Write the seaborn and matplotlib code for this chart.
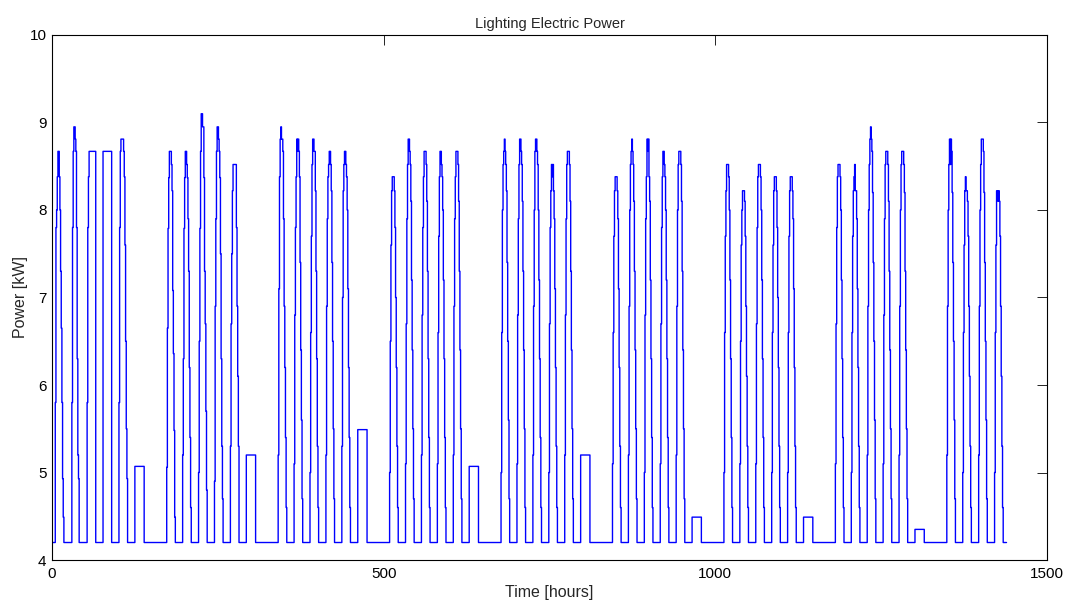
import matplotlib
matplotlib.use("Agg")
import matplotlib.pyplot as plt
import numpy as np
import pandas as pd
import seaborn as sns

# Lighting load, hourly, over 60 days starting on a Monday
BASE_KW = 4.2           # night-time / unoccupied lighting load
N_DAYS = 60
ON_START = 5            # first hour of the day with the occupied profile

# Occupied-hours profiles (hours 5..18) for each weekday, in kW
weekday_profiles = [
    # week 1
    [5.80, 7.80, 8.00, 8.38, 8.67, 8.67, 8.38, 8.00, 7.30, 6.65, 5.80, 4.93, 4.49, 4.20],
    [4.20, 5.80, 7.80, 8.67, 8.95, 8.95, 8.81, 8.67, 7.80, 6.30, 5.20, 4.93, 4.20, 4.20],
    [5.80, 7.80, 8.38, 8.67, 8.67, 8.67, 8.67, 8.67, 8.67, 8.67, 8.67, 8.67, 8.67, 4.20],
    [8.67, 8.67, 8.67, 8.67, 8.67, 8.67, 8.67, 8.67, 8.67, 8.67, 8.67, 8.67, 8.67, 4.20],
    [5.80, 7.80, 8.67, 8.81, 8.81, 8.81, 8.81, 8.67, 8.38, 7.60, 6.50, 5.50, 4.93, 4.20],
    # week 2
    [5.06, 6.65, 7.79, 8.37, 8.67, 8.67, 8.67, 8.52, 8.22, 7.08, 6.36, 5.48, 4.49, 4.20],
    [5.20, 6.30, 7.79, 8.37, 8.67, 8.67, 8.52, 8.37, 7.90, 7.30, 6.20, 5.40, 4.60, 4.20],
    [5.00, 6.50, 7.79, 8.67, 9.10, 9.10, 8.95, 8.95, 8.37, 7.30, 6.70, 5.70, 4.80, 4.20],
    [4.90, 6.90, 7.90, 8.67, 8.95, 8.95, 8.81, 8.67, 8.37, 7.50, 6.30, 5.30, 4.70, 4.20],
    [5.30, 6.70, 7.50, 8.22, 8.52, 8.52, 8.52, 8.52, 8.52, 7.80, 6.90, 6.10, 5.30, 4.20],
    # week 3
    [5.20, 7.10, 8.38, 8.81, 8.95, 8.81, 8.81, 8.67, 7.90, 6.90, 6.20, 5.40, 4.60, 4.20],
    [5.10, 6.80, 7.80, 8.38, 8.81, 8.67, 8.81, 8.67, 8.38, 7.40, 6.40, 5.60, 4.70, 4.20],
    [5.00, 6.60, 7.70, 8.52, 8.81, 8.81, 8.67, 8.67, 8.22, 7.30, 6.30, 5.30, 4.60, 4.20],
    [5.20, 6.90, 7.90, 8.38, 8.52, 8.67, 8.67, 8.52, 8.22, 7.40, 6.50, 5.50, 4.70, 4.20],
    [5.30, 7.00, 8.22, 8.52, 8.67, 8.67, 8.52, 8.38, 8.00, 7.10, 6.20, 5.40, 4.60, 4.20],
    # week 4
    [5.00, 6.50, 7.60, 8.22, 8.38, 8.38, 8.38, 8.22, 7.80, 7.00, 6.20, 5.30, 4.60, 4.20],
    [5.10, 6.70, 7.90, 8.52, 8.81, 8.81, 8.67, 8.52, 8.10, 7.20, 6.40, 5.50, 4.70, 4.20],
    [5.20, 6.80, 7.80, 8.38, 8.67, 8.67, 8.67, 8.52, 8.10, 7.30, 6.30, 5.40, 4.60, 4.20],
    [5.10, 6.60, 7.70, 8.38, 8.67, 8.67, 8.52, 8.38, 8.00, 7.20, 6.30, 5.40, 4.60, 4.20],
    [5.20, 6.90, 7.90, 8.38, 8.67, 8.67, 8.67, 8.52, 8.10, 7.30, 6.40, 5.50, 4.70, 4.20],
    # week 5
    [5.00, 6.60, 8.00, 8.52, 8.67, 8.81, 8.67, 8.52, 8.22, 7.40, 6.50, 5.60, 4.70, 4.20],
    [5.10, 6.80, 7.90, 8.52, 8.81, 8.81, 8.67, 8.52, 8.10, 7.30, 6.40, 5.50, 4.60, 4.20],
    [5.20, 6.90, 8.00, 8.67, 8.81, 8.81, 8.67, 8.52, 8.00, 7.20, 6.30, 5.40, 4.60, 4.20],
    [5.00, 6.70, 7.80, 8.22, 8.52, 8.38, 8.52, 8.22, 7.90, 7.10, 6.20, 5.30, 4.60, 4.20],
    [5.20, 6.80, 7.90, 8.52, 8.67, 8.67, 8.67, 8.52, 8.10, 7.30, 6.40, 5.50, 4.70, 4.20],
    # week 6
    [5.10, 6.60, 7.70, 8.22, 8.38, 8.38, 8.38, 8.22, 7.90, 7.10, 6.20, 5.30, 4.60, 4.20],
    [5.20, 6.90, 8.00, 8.52, 8.67, 8.81, 8.67, 8.52, 8.10, 7.30, 6.40, 5.50, 4.70, 4.20],
    [5.00, 6.80, 7.90, 8.38, 8.81, 8.67, 8.81, 8.38, 8.10, 7.20, 6.30, 5.40, 4.60, 4.20],
    [5.10, 6.70, 7.80, 8.38, 8.67, 8.67, 8.52, 8.38, 8.00, 7.20, 6.30, 5.40, 4.60, 4.20],
    [5.20, 6.90, 8.00, 8.52, 8.67, 8.67, 8.67, 8.52, 8.10, 7.30, 6.40, 5.50, 4.70, 4.20],
    # week 7
    [5.00, 6.60, 7.70, 8.22, 8.52, 8.52, 8.52, 8.38, 8.00, 7.20, 6.30, 5.40, 4.60, 4.20],
    [5.10, 6.50, 7.60, 8.00, 8.22, 8.22, 8.22, 8.10, 7.70, 6.90, 6.10, 5.30, 4.60, 4.20],
    [5.10, 6.70, 7.80, 8.38, 8.52, 8.52, 8.52, 8.38, 8.00, 7.20, 6.30, 5.40, 4.60, 4.20],
    [5.00, 6.60, 7.60, 8.22, 8.38, 8.38, 8.38, 8.22, 7.80, 7.00, 6.20, 5.30, 4.60, 4.20],
    [5.00, 6.60, 7.70, 8.22, 8.38, 8.38, 8.38, 8.22, 7.90, 7.10, 6.20, 5.30, 4.60, 4.20],
    # week 8
    [5.10, 6.70, 7.80, 8.38, 8.52, 8.52, 8.52, 8.38, 8.00, 7.20, 6.30, 5.40, 4.60, 4.20],
    [5.00, 6.60, 7.70, 8.22, 8.38, 8.52, 8.22, 8.22, 7.90, 7.10, 6.20, 5.30, 4.60, 4.20],
    [5.20, 6.90, 8.00, 8.52, 8.81, 8.95, 8.81, 8.67, 8.20, 7.40, 6.50, 5.60, 4.70, 4.20],
    [5.10, 6.80, 7.90, 8.52, 8.67, 8.67, 8.67, 8.52, 8.10, 7.30, 6.40, 5.50, 4.70, 4.20],
    [5.20, 6.90, 8.00, 8.52, 8.67, 8.67, 8.67, 8.52, 8.20, 7.30, 6.40, 5.50, 4.70, 4.20],
    # week 9 (Mon-Thu)
    [5.20, 6.90, 8.00, 8.52, 8.81, 8.52, 8.81, 8.67, 8.20, 7.40, 6.50, 5.60, 4.70, 4.20],
    [5.00, 6.60, 7.60, 8.22, 8.38, 8.22, 8.22, 8.10, 7.70, 6.90, 6.10, 5.30, 4.60, 4.20],
    [5.20, 6.90, 8.00, 8.52, 8.81, 8.81, 8.81, 8.67, 8.20, 7.40, 6.50, 5.60, 4.70, 4.20],
    [5.00, 6.60, 7.60, 8.22, 8.22, 8.10, 8.22, 8.10, 7.70, 6.90, 6.10, 5.30, 4.60, 4.20],
]

# Saturday lighting level (hours 5..18) for each week; Sundays stay at base
saturday_levels = [5.07, 5.20, 5.49, 5.07, 5.20, 4.49, 4.49, 4.35]

# Assemble the hourly series
power = []
wd = iter(weekday_profiles)
for day in range(N_DAYS):
    dow = day % 7
    hours = [BASE_KW] * 24
    if dow < 5:
        prof = next(wd)
        hours[ON_START:ON_START + len(prof)] = prof
    elif dow == 5:
        lvl = saturday_levels[day // 7]
        hours[ON_START:ON_START + 14] = [lvl] * 14
    power.extend(hours)

df = pd.DataFrame({"Time [hours]": np.arange(len(power)), "Power [kW]": power})

sns.set_style("white")
plt.rcParams["font.family"] = ["Liberation Sans", "DejaVu Sans"]

fig = plt.figure(figsize=(10.69, 6.01), dpi=100)
ax = fig.add_axes([0.0486, 0.0682, 0.9308, 0.8736])

sns.lineplot(data=df, x="Time [hours]", y="Power [kW]", ax=ax,
             color=(0, 0, 1), linewidth=1.0, drawstyle="steps-post",
             estimator=None, sort=False)

ax.set_xlim(0, 1500)
ax.set_ylim(4, 10)
ax.set_xticks([0, 500, 1000, 1500])
ax.set_yticks(range(4, 11))
ax.tick_params(direction="in", top=True, right=True, length=7, width=0.6,
               labelsize=11, colors="black")
ax.tick_params(axis="x", pad=5)
ax.tick_params(axis="y", pad=4)
for s in ax.spines.values():
    s.set_visible(True)
    s.set_color("black")
    s.set_linewidth(0.8)

ax.set_title("Lighting Electric Power", fontsize=10.5, pad=5)
ax.set_xlabel("Time [hours]", fontsize=11.5, labelpad=3)
ax.set_ylabel("Power [kW]", fontsize=11.5, labelpad=1)

fig.savefig("out.png", dpi=100, facecolor="white")
